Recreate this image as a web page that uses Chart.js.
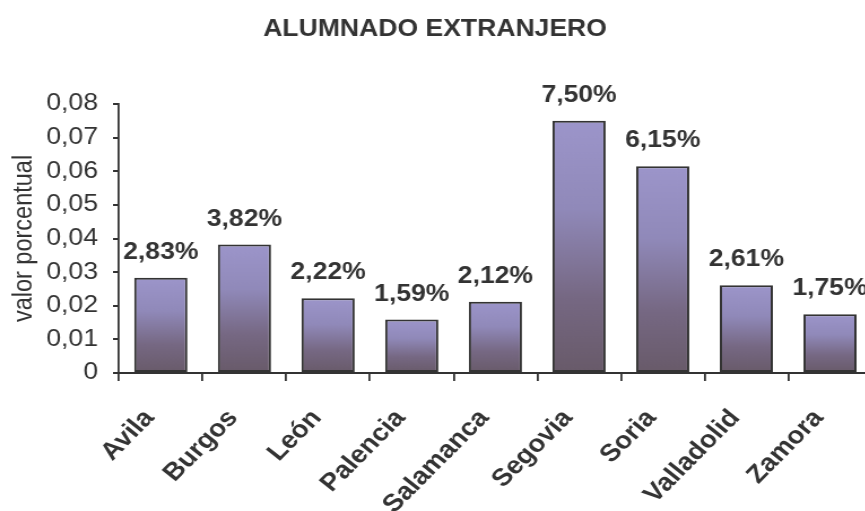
<!DOCTYPE html>
<html>
<head>
<meta charset="utf-8">
<script src="https://cdn.jsdelivr.net/npm/chart.js@4/dist/chart.umd.min.js"></script>
<style>
  html, body { margin: 0; padding: 0; overflow: hidden; background: #fff; width: 865px; height: 511px; }
  #wrap { width: 780px; height: 511px; transform: scaleX(1.13); transform-origin: 0 0; }
</style>
</head>
<body>
<div id="wrap"><canvas id="c" width="780" height="511"></canvas></div>
<script>
const titleText = 'ALUMNADO EXTRANJERO';
const yAxisTitle = 'valor porcentual';
const categories = ['Avila', 'Burgos', 'León', 'Palencia', 'Salamanca', 'Segovia', 'Soria', 'Valladolid', 'Zamora'];
const values = [0.0283, 0.0382, 0.0222, 0.0159, 0.0212, 0.0750, 0.0615, 0.0261, 0.0175];
const yMin = 0, yMax = 0.08, yStep = 0.01;

const FONT = '"Liberation Sans", Arial, sans-serif';
const TEXT = '#333333';
const FS = 23.5;

function fmtPct(v) { return (v * 100).toFixed(2).replace('.', ',') + '%'; }
function fmtTick(v) { return v === 0 ? '0' : v.toFixed(2).replace('.', ','); }

const titlePlugin = {
  id: 'customTitle',
  afterDraw(chart) {
    const ctx = chart.ctx;
    ctx.save();
    ctx.font = 'bold ' + FS + 'px ' + FONT;
    ctx.fillStyle = TEXT;
    ctx.textAlign = 'center';
    ctx.textBaseline = 'alphabetic';
    ctx.fillText(titleText, 385, 36);
    ctx.restore();
  }
};

const labelPlugin = {
  id: 'barLabels',
  afterDatasetsDraw(chart) {
    const ctx = chart.ctx;
    const meta = chart.getDatasetMeta(0);
    ctx.save();
    ctx.font = 'bold ' + FS + 'px ' + FONT;
    ctx.fillStyle = TEXT;
    ctx.textAlign = 'center';
    ctx.textBaseline = 'alphabetic';
    meta.data.forEach((bar, i) => {
      ctx.fillText(fmtPct(values[i]), bar.x, bar.y - 19);
    });
    ctx.restore();
  }
};

new Chart(document.getElementById('c'), {
  type: 'bar',
  data: {
    labels: categories,
    datasets: [{
      data: values,
      backgroundColor: (c) => {
        const chart = c.chart;
        const { ctx, chartArea, scales } = chart;
        if (!chartArea || c.type !== 'data' || !scales.y) return '#8f86b8';
        const top = scales.y.getPixelForValue(c.raw);
        const bottom = scales.y.getPixelForValue(0);
        const g = ctx.createLinearGradient(0, top, 0, bottom);
        g.addColorStop(0, '#9c95ca');
        g.addColorStop(0.35, '#9089b9');
        g.addColorStop(0.7, '#766883');
        g.addColorStop(1, '#685a69');
        return g;
      },
      borderColor: '#333333',
      borderWidth: 2,
      borderSkipped: false,
      categoryPercentage: 1,
      barPercentage: 0.635
    }]
  },
  options: {
    responsive: false,
    animation: false,
    devicePixelRatio: 1,
    layout: { padding: { top: 104, right: 8.3, bottom: 0, left: 0 } },
    plugins: {
      legend: { display: false },
      tooltip: { enabled: false },
      title: { display: false }
    },
    scales: {
      x: {
        offset: true,
        grid: { display: true, offset: true, drawOnChartArea: false, drawTicks: true, tickLength: 8, color: '#333333', lineWidth: 1.8 },
        border: { display: true, color: '#333333', width: 2 },
        ticks: {
          autoSkip: false, minRotation: 48.5, maxRotation: 48.5, padding: 23, labelOffset: -10,
          color: TEXT, font: { family: FONT, size: 24.5, weight: 'bold' }
        },
        afterFit(scale) { scale.height = 138; }
      },
      y: {
        min: yMin, max: yMax,
        grid: { display: true, drawOnChartArea: false, drawTicks: true, tickLength: 5.3, color: '#333333', lineWidth: 2 },
        border: { display: true, color: '#333333', width: 1.8 },
        ticks: {
          stepSize: yStep, padding: 13.3,
          color: TEXT, font: { family: FONT, size: FS },
          callback: (v) => fmtTick(v)
        },
        title: {
          display: true, text: yAxisTitle, color: TEXT,
          font: { family: FONT, size: FS }, padding: { top: 7.4, bottom: 0 }
        },
        afterFit(scale) { scale.width = 105.3; }
      }
    }
  },
  plugins: [titlePlugin, labelPlugin]
});
</script>
</body>
</html>
